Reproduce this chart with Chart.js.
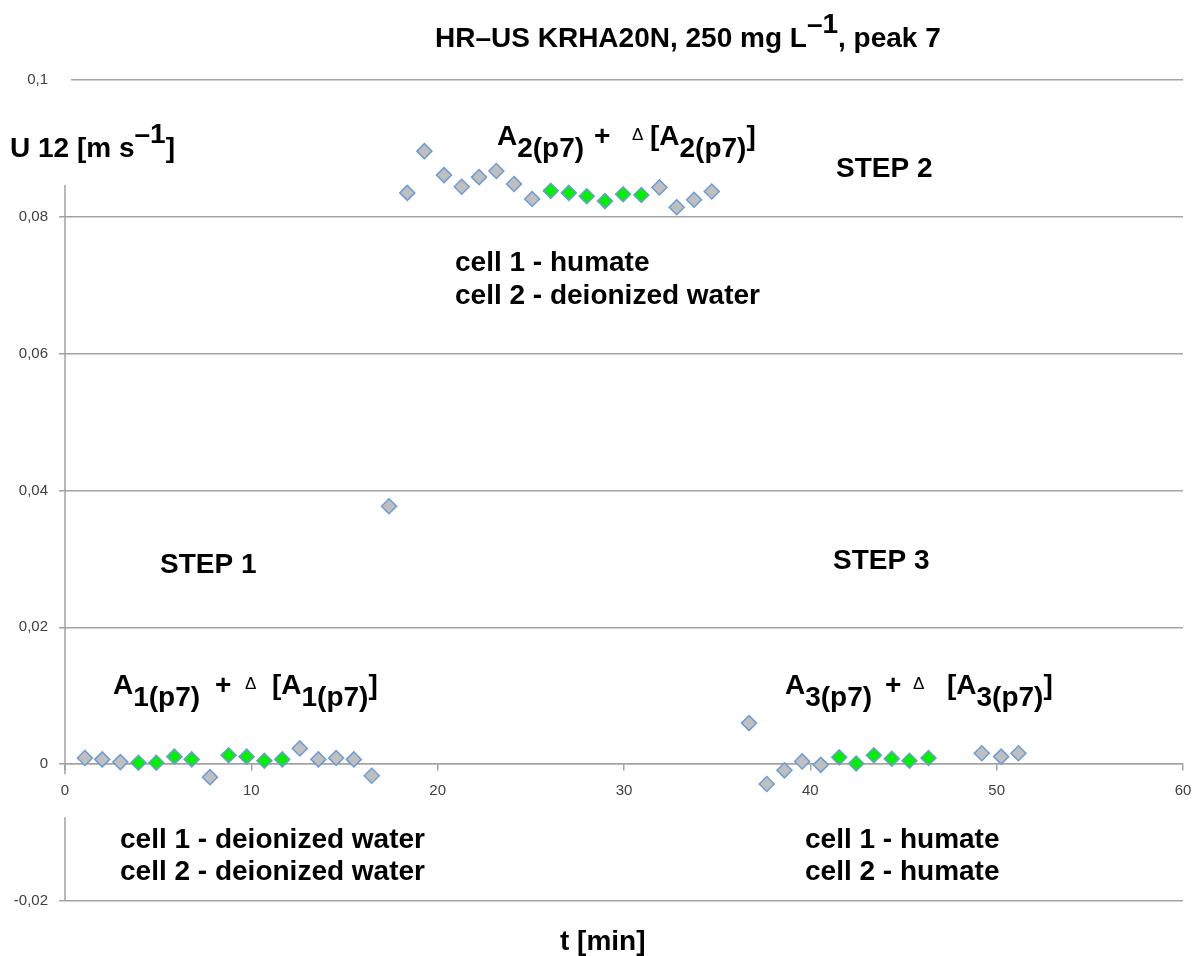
<!DOCTYPE html>
<html>
<head>
<meta charset="utf-8">
<script src="https://cdn.jsdelivr.net/npm/chart.js@4.4.1/dist/chart.umd.min.js"></script>
<style>
    html, body { margin: 0; padding: 0; background: #ffffff; }
    #wrap { width: 1196px; height: 956px; }
</style>
</head>
<body>
<div id="wrap"><canvas id="u12-chart" width="1196" height="956"></canvas></div>
<script>
// U12 readings for peak 7 (t in min, U12 in m/s)
// grey: all measured points, green: points taken for the plateau averages
const greyTimes = [1.07, 2.0, 2.97, 7.78, 12.6, 13.6, 14.55, 15.5, 16.46,
    17.39,
    18.37, 19.29, 20.34, 21.29, 22.22, 23.15, 24.1, 25.07, 31.9, 32.83, 33.76, 34.71,
    36.71, 37.66, 38.61, 39.56, 40.56, 49.2, 50.24, 51.17];
const greyValues = [0.0009, 0.0007, 0.0003, -0.0019, 0.0023, 0.0007, 0.0009, 0.0007, -0.0017,
    0.0377,
    0.0835, 0.0896, 0.0861, 0.0844, 0.0858, 0.0867, 0.0848, 0.0826, 0.0843, 0.0814, 0.0825, 0.0837,
    0.0060, -0.0029, -0.0009, 0.0004, -0.0001, 0.0016, 0.0011, 0.0016];

const greenTimes = [3.94, 4.9, 5.87, 6.8, 8.78, 9.75, 10.7, 11.66,
    26.07, 27.04, 28.0, 28.98, 29.95, 30.93,
    41.55, 42.46, 43.41, 44.37, 45.32, 46.34];
const greenValues = [0.0002, 0.0002, 0.0011, 0.0007, 0.0013, 0.0011, 0.0005, 0.0007,
    0.0838, 0.0835, 0.0830, 0.0823, 0.0833, 0.0832,
    0.0010, 0.0001, 0.0013, 0.0008, 0.0005, 0.0009];

// axis ranges
const xRange = [0, 60];
const xStep = 10;
const yRange = [-0.02, 0.1];
const yStep = 0.02;

const BOLD = 'bold 28px "Liberation Sans", Arial, sans-serif';
const SMALL = '17px "Liberation Sans", Arial, sans-serif';
const TITLE = 'bold 28px "Liberation Sans", Arial, sans-serif';
const GRID = '#a3a3a3';

function toPoints(xs, ys) {
    return xs.map((x, i) => ({ x: x, y: ys[i] }));
}

// draw a run of text pieces; a piece may set its own x, font and vertical offset
function drawRuns(ctx, x, y, runs) {
    let cx = x;
    runs.forEach(r => {
        ctx.font = r.font || BOLD;
        if (r.x !== undefined) cx = r.x;
        ctx.fillText(r.t, cx, y + (r.dy || 0));
        cx += ctx.measureText(r.t).width;
    });
}

function amplitudeLabel(n, xs) {
    const sub = n + '(p7)';
    return [
        { t: 'A', x: xs[0] },
        { t: sub, dy: 12 },
        { t: '+', x: xs[1] },
        { t: '\u0394', x: xs[2], font: SMALL, dy: -5 },
        { t: '[', x: xs[3] },
        { t: 'A' },
        { t: sub, dy: 12 },
        { t: ']' }
    ];
}

const annotations = {
    id: 'annotations',
    beforeDatasetsDraw(chart) {
        const ctx = chart.ctx;
        const area = chart.chartArea;
        const zero = chart.scales.y.getPixelForValue(0);
        ctx.save();
        // the label box of U12 hides the first bit of the top grid line
        ctx.fillStyle = '#ffffff';
        ctx.fillRect(area.left - 10, area.top - 5, 16, 10);
        // vertical axis, broken where the text boxes sit
        ctx.strokeStyle = GRID;
        ctx.lineWidth = 1.5;
        ctx.beginPath();
        ctx.moveTo(area.left, area.top + 105);
        ctx.lineTo(area.left, zero + 10);
        ctx.moveTo(area.left, zero + 53);
        ctx.lineTo(area.left, area.bottom);
        ctx.stroke();
        ctx.restore();
    },
    afterDraw(chart) {
        const ctx = chart.ctx;
        ctx.save();
        ctx.fillStyle = '#000000';
        ctx.textBaseline = 'alphabetic';
        ctx.textAlign = 'left';

        drawRuns(ctx, 435, 47, [
            { t: 'HR\u2013US KRHA20N, 250 mg L', font: TITLE },
            { t: '\u20131', font: TITLE, dy: -14 },
            { t: ', peak 7', font: TITLE }
        ]);

        drawRuns(ctx, 10, 157, [
            { t: 'U 12 [m s' },
            { t: '\u20131', dy: -14 },
            { t: ']' }
        ]);
        drawRuns(ctx, 560, 950, [{ t: 't [min]' }]);

        drawRuns(ctx, 0, 145, amplitudeLabel(2, [497, 594, 632, 650]));
        drawRuns(ctx, 0, 694, amplitudeLabel(1, [113, 215, 245, 272]));
        drawRuns(ctx, 0, 694, amplitudeLabel(3, [785, 885, 913, 947]));

        drawRuns(ctx, 836, 177, [{ t: 'STEP 2' }]);
        drawRuns(ctx, 160, 573, [{ t: 'STEP 1' }]);
        drawRuns(ctx, 833, 569, [{ t: 'STEP 3' }]);

        drawRuns(ctx, 455, 271, [{ t: 'cell 1 - humate' }]);
        drawRuns(ctx, 455, 304, [{ t: 'cell 2 - deionized water' }]);
        drawRuns(ctx, 120, 848, [{ t: 'cell 1 - deionized water' }]);
        drawRuns(ctx, 120, 880, [{ t: 'cell 2 - deionized water' }]);
        drawRuns(ctx, 805, 848, [{ t: 'cell 1 - humate' }]);
        drawRuns(ctx, 805, 880, [{ t: 'cell 2 - humate' }]);
        ctx.restore();
    }
};

const markerBase = {
    pointStyle: 'rectRot',
    pointRadius: 7.5,
    pointHoverRadius: 7.5,
    pointBorderWidth: 1.5,
    pointBorderColor: '#6f9cd4',
    showLine: false
};

new Chart(document.getElementById('u12-chart'), {
    type: 'scatter',
    data: {
        datasets: [
            { ...markerBase, label: 'U12', data: toPoints(greyTimes, greyValues), pointBackgroundColor: '#bfbfbf' },
            { ...markerBase, label: 'U12 plateau', data: toPoints(greenTimes, greenValues), pointBackgroundColor: '#00f000' }
        ]
    },
    options: {
        responsive: false,
        animation: false,
        devicePixelRatio: 1,
        layout: { padding: { left: 0, right: 13, top: 80, bottom: 55 } },
        plugins: {
            legend: { display: false },
            tooltip: { enabled: false }
        },
        scales: {
            x: {
                type: 'linear',
                min: xRange[0],
                max: xRange[1],
                position: { y: 0 },
                afterFit: s => { s.paddingLeft = 0; s.paddingRight = 0; },
                ticks: {
                    stepSize: xStep,
                    padding: 12,
                    color: '#404040',
                    font: { family: '"Liberation Sans", Arial, sans-serif', size: 15 }
                },
                grid: { drawOnChartArea: false, drawTicks: true, tickLength: 6, color: GRID, lineWidth: 1.5 },
                border: { display: true, color: GRID, width: 1.5 }
            },
            y: {
                type: 'linear',
                min: yRange[0],
                max: yRange[1],
                afterFit: s => { s.width = 65; },
                ticks: {
                    stepSize: yStep,
                    padding: 11,
                    color: '#404040',
                    font: { family: '"Liberation Sans", Arial, sans-serif', size: 15 },
                    callback: v => String(Number(v.toFixed(2))).replace('.', ',')
                },
                grid: { color: GRID, lineWidth: 1.5, drawTicks: true, tickLength: 6 },
                border: { display: false }
            }
        }
    },
    plugins: [annotations]
});
</script>
</body>
</html>
